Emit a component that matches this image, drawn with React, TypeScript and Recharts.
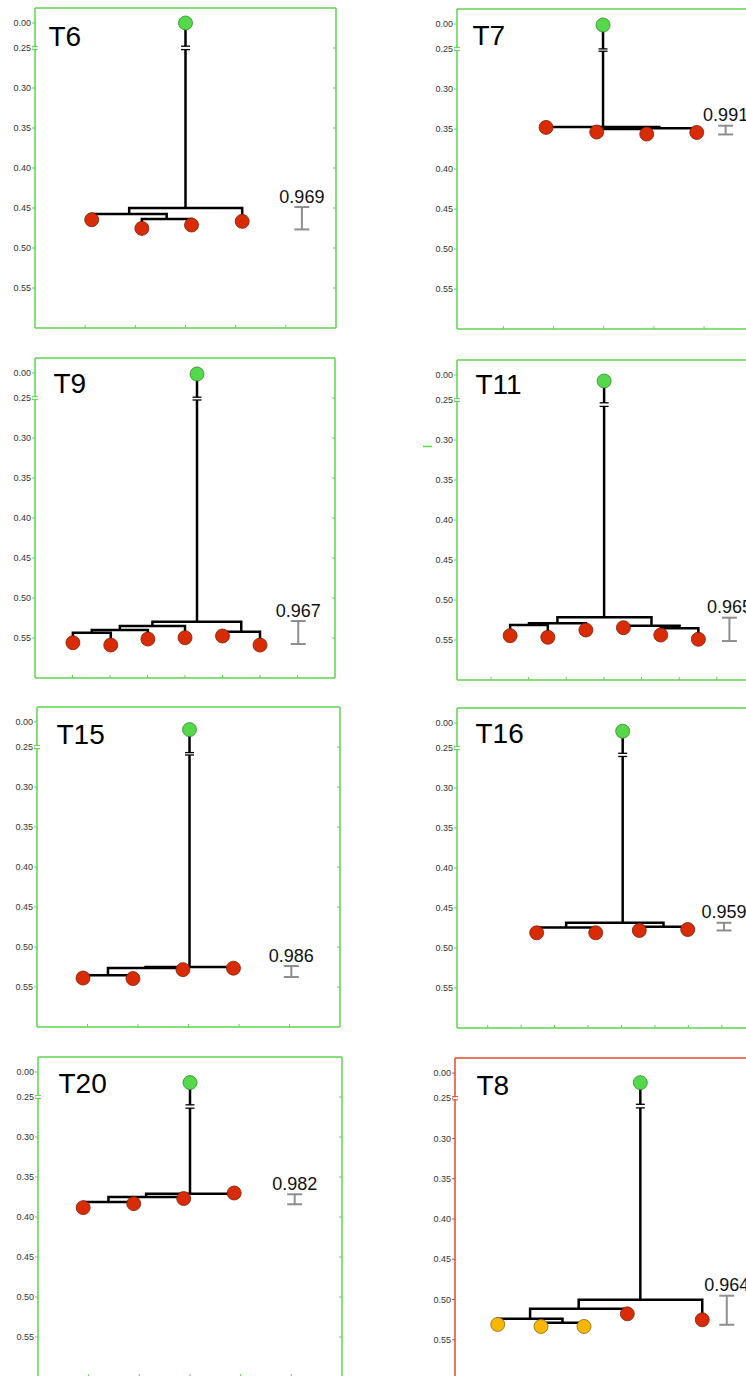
import React from 'react';
import { ComposedChart, XAxis, YAxis, Line, Scatter } from 'recharts';

const FONT = '"Liberation Sans", Arial, Helvetica, sans-serif';

// ---------- axis tick values (real distance values) ----------
const Y_TICKS_LEFT = [0, 0.25, 0.3, 0.35, 0.4, 0.45, 0.5, 0.55];
const Y_TICKS_RIGHT = [0.25, 0.3, 0.35, 0.4, 0.45, 0.5, 0.55];

// ---------- T6 ----------
const T6_LEAF_X = [1.13, 2.13, 3.12, 4.13];
const T6_LEAF_Y = [0.4646, 0.4755, 0.4713, 0.4667];
const T6_LEAF_C = ['r', 'r', 'r', 'r'];
const T6_LINKS = [[1, 2, 0.4639], [0, 4, 0.4575], [5, 3, 0.45]];
const T6_ROOT = [3.0, 0.0];
const T6_BREAK = [0.232, 0.252];
const T6_SPREAD = [5.32, 0.4488, 0.4768];
const T6_SCORE = '0.969';

// ---------- T7 ----------
const T7_LEAF_X = [1.85, 2.86, 3.857, 4.854];
const T7_LEAF_Y = [0.348, 0.3538, 0.3563, 0.3543];
const T7_LEAF_C = ['r', 'r', 'r', 'r'];
const T7_LINKS = [[1, 2, 0.35], [4, 3, 0.349], [0, 5, 0.3475]];
const T7_ROOT = [2.986, 0.01];
const T7_BREAK = [0.249, 0.2528];
const T7_SPREAD = [5.43, 0.3459, 0.3568];
const T7_SCORE = '0.991';

// ---------- T9 ----------
const T9_LEAF_X = [1.01, 2.02, 3.01, 4.0, 5.0, 6.0];
const T9_LEAF_Y = [0.5559, 0.5588, 0.5513, 0.5496, 0.5475, 0.5588];
const T9_LEAF_C = ['r', 'r', 'r', 'r', 'r', 'r'];
const T9_LINKS = [[0, 1, 0.5434], [6, 2, 0.54], [7, 3, 0.535], [4, 5, 0.5421], [8, 9, 0.5296]];
const T9_ROOT = [4.32, 0.01];
const T9_BREAK = [0.242, 0.2525];
const T9_SPREAD = [7.02, 0.5288, 0.5575];
const T9_SCORE = '0.967';

// ---------- T11 ----------
const T11_LEAF_X = [1.507, 2.509, 3.52, 4.518, 5.51, 6.51];
const T11_LEAF_Y = [0.5446, 0.5466, 0.5375, 0.5346, 0.5438, 0.5491];
const T11_LEAF_C = ['r', 'r', 'r', 'r', 'r', 'r'];
const T11_LINKS = [[0, 1, 0.5313], [6, 2, 0.5291], [4, 5, 0.5354], [3, 8, 0.5321], [7, 9, 0.5216]];
const T11_ROOT = [4.005, 0.06];
const T11_BREAK = [0.2535, 0.258];
const T11_SPREAD = [7.335, 0.5221, 0.5513];
const T11_SCORE = '0.965';

// ---------- T15 ----------
const T15_LEAF_X = [0.911, 1.9, 2.89, 3.89];
const T15_LEAF_Y = [0.5388, 0.5395, 0.5283, 0.5265];
const T15_LEAF_C = ['r', 'r', 'r', 'r'];
const T15_LINKS = [[0, 1, 0.5354], [4, 2, 0.5263], [5, 3, 0.525]];
const T15_ROOT = [3.02, 0.076];
const T15_BREAK = [0.257, 0.26];
const T15_SPREAD = [5.036, 0.5238, 0.5375];
const T15_SCORE = '0.986';

// ---------- T16 ----------
const T16_LEAF_X = [2.464, 4.229, 5.533, 6.98];
const T16_LEAF_Y = [0.481, 0.481, 0.4781, 0.4769];
const T16_LEAF_C = ['r', 'r', 'r', 'r'];
const T16_LINKS = [[0, 1, 0.4745], [2, 3, 0.4735], [4, 5, 0.4685]];
const T16_ROOT = [5.036, 0.082];
const T16_BREAK = [0.2566, 0.2606];
const T16_SPREAD = [8.066, 0.4685, 0.4781];
const T16_SCORE = '0.959';

// ---------- T20 ----------
const T20_LEAF_X = [0.892, 1.889, 2.876, 3.872];
const T20_LEAF_Y = [0.3883, 0.3833, 0.377, 0.37];
const T20_LEAF_C = ['r', 'r', 'r', 'r'];
const T20_LINKS = [[0, 1, 0.3813], [4, 2, 0.375], [5, 3, 0.3708]];
const T20_ROOT = [3.0, 0.106];
const T20_BREAK = [0.2598, 0.264];
const T20_SPREAD = [5.066, 0.3716, 0.3841];
const T20_SCORE = '0.982';

// ---------- T8 ----------
const T8_LEAF_X = [0.993, 2.0, 3.0, 4.007, 5.75];
const T8_LEAF_Y = [0.531, 0.5335, 0.5335, 0.5178, 0.5252];
const T8_LEAF_C = ['y', 'y', 'y', 'r', 'r'];
const T8_LINKS = [[1, 2, 0.529], [0, 5, 0.524], [6, 3, 0.5116], [7, 4, 0.5004]];
const T8_ROOT = [4.31, 0.095];
const T8_BREAK = [0.2575, 0.262];
const T8_SPREAD = [6.32, 0.4953, 0.5314];
const T8_SCORE = '0.964';

const PANEL_DATA = [
  { title: 'T6', leafX: T6_LEAF_X, leafY: T6_LEAF_Y, leafC: T6_LEAF_C, links: T6_LINKS, root: T6_ROOT, brk: T6_BREAK, spread: T6_SPREAD, score: T6_SCORE },
  { title: 'T7', leafX: T7_LEAF_X, leafY: T7_LEAF_Y, leafC: T7_LEAF_C, links: T7_LINKS, root: T7_ROOT, brk: T7_BREAK, spread: T7_SPREAD, score: T7_SCORE },
  { title: 'T9', leafX: T9_LEAF_X, leafY: T9_LEAF_Y, leafC: T9_LEAF_C, links: T9_LINKS, root: T9_ROOT, brk: T9_BREAK, spread: T9_SPREAD, score: T9_SCORE },
  { title: 'T11', leafX: T11_LEAF_X, leafY: T11_LEAF_Y, leafC: T11_LEAF_C, links: T11_LINKS, root: T11_ROOT, brk: T11_BREAK, spread: T11_SPREAD, score: T11_SCORE },
  { title: 'T15', leafX: T15_LEAF_X, leafY: T15_LEAF_Y, leafC: T15_LEAF_C, links: T15_LINKS, root: T15_ROOT, brk: T15_BREAK, spread: T15_SPREAD, score: T15_SCORE },
  { title: 'T16', leafX: T16_LEAF_X, leafY: T16_LEAF_Y, leafC: T16_LEAF_C, links: T16_LINKS, root: T16_ROOT, brk: T16_BREAK, spread: T16_SPREAD, score: T16_SCORE },
  { title: 'T20', leafX: T20_LEAF_X, leafY: T20_LEAF_Y, leafC: T20_LEAF_C, links: T20_LINKS, root: T20_ROOT, brk: T20_BREAK, spread: T20_SPREAD, score: T20_SCORE },
  { title: 'T8', leafX: T8_LEAF_X, leafY: T8_LEAF_Y, leafC: T8_LEAF_C, links: T8_LINKS, root: T8_ROOT, brk: T8_BREAK, spread: T8_SPREAD, score: T8_SCORE },
];

// ---------- layout & style ----------
const GREEN_FRAME = '#5cd64c';
const RED_FRAME = '#e04a24';
const LAYOUT = [
  { x0: 35, y0: 8, w: 301, h: 320, xmin: 0, span: 6, frame: GREEN_FRAME, tx: 14, ty: 38 },
  { x0: 457, y0: 9, w: 301, h: 320, xmin: 0.075, span: 6, frame: GREEN_FRAME, tx: 16, ty: 36 },
  { x0: 35, y0: 358, w: 300, h: 320, xmin: 0, span: 8, frame: GREEN_FRAME, tx: 19, ty: 35 },
  { x0: 457, y0: 360, w: 301, h: 320, xmin: 0.095, span: 8, frame: GREEN_FRAME, tx: 19, ty: 34 },
  { x0: 37, y0: 707, w: 303, h: 320, xmin: 0, span: 6, frame: GREEN_FRAME, tx: 20, ty: 37 },
  { x0: 457, y0: 708, w: 301, h: 320, xmin: 0.082, span: 9, frame: GREEN_FRAME, tx: 19, ty: 35 },
  { x0: 38, y0: 1057, w: 304, h: 320, xmin: 0, span: 6, frame: GREEN_FRAME, tx: 21, ty: 36 },
  { x0: 455, y0: 1058, w: 301, h: 322, xmin: 0, span: 7, frame: RED_FRAME, tx: 22, ty: 37 },
];

const LEAF_FILL: Record<string, string> = { r: '#d92c06', y: '#f7b703' };
const LEAF_STROKE: Record<string, string> = { r: '#7c1f08', y: '#8c6a12' };
const ROOT_FILL = '#55d84a';
const ROOT_STROKE = '#2f8a2a';
const TREE_COLOR = '#000';
const SPREAD_COLOR = '#8e8e8e';

// broken axis: [0, 0.25] is squeezed into a short band above 0.25
const BREAK_AT = 0.25;
const SQUEEZE = 0.125;
const brk = (v: number) => (v >= BREAK_AT ? v : BREAK_AT - (BREAK_AT - v) * SQUEEZE);
const unbrk = (d: number) => (d >= BREAK_AT - 1e-9 ? d : BREAK_AT - (BREAK_AT - d) / SQUEEZE);

const ML = 40, MT = 10, MR = 10, MB = 10;
const TICK_SIZE = 3, TICK_MARGIN = 1;

const LeafDot = (p: any) => (
  <circle cx={p.cx} cy={p.cy} r={7} fill={LEAF_FILL[p.payload.c]} stroke={LEAF_STROKE[p.payload.c]} strokeWidth={0.8} />
);
const RootDot = (p: any) => (
  <circle cx={p.cx} cy={p.cy} r={7} fill={ROOT_FILL} stroke={ROOT_STROKE} strokeWidth={0.8} />
);
const BreakMark = (p: any) => (
  <line x1={p.cx - 4.5} x2={p.cx + 4.5} y1={p.cy} y2={p.cy} stroke={TREE_COLOR} strokeWidth={1.3} />
);
const Cap = (p: any) => (
  <line x1={p.cx - 7.5} x2={p.cx + 7.5} y1={p.cy} y2={p.cy} stroke={SPREAD_COLOR} strokeWidth={2} />
);
const ScoreLabel = (p: any) => (
  <text x={p.cx} y={p.cy - 4.5} textAnchor="middle" fontSize={18} fontFamily={FONT} fill="#111">
    {p.payload.label}
  </text>
);
const EmptyTick = () => <g />;

function makeLeftTick(color: string) {
  return (props: any) => {
    const { x, y, payload } = props;
    const real = unbrk(payload.value);
    const ax = x + TICK_SIZE + TICK_MARGIN;
    const isBreak = Math.abs(real - BREAK_AT) < 1e-6;
    return (
      <g>
        <text x={x} y={y} dy={3.2} textAnchor="end" fontSize={9} fontFamily={FONT} fill="#333">
          {real.toFixed(2)}
        </text>
        {isBreak && (
          <g>
            <rect x={ax - 2} y={y - 1} width={4} height={2} fill="#fff" />
            <line x1={ax - 3} x2={ax + 3} y1={y - 1.6} y2={y - 1.6} stroke={color} strokeWidth={1} />
            <line x1={ax - 3} x2={ax + 3} y1={y + 1.6} y2={y + 1.6} stroke={color} strokeWidth={1} />
          </g>
        )}
      </g>
    );
  };
}

function Panel({ L, D }: { L: any; D: any }) {
  const xTicks: number[] = [];
  for (let k = Math.ceil(L.xmin + 1e-6); k < L.xmin + L.span - 1e-6; k++) xTicks.push(k);

  const xs: number[] = [...D.leafX];
  const hs: number[] = [...D.leafY];
  const paths = D.links.map(([a, b, h]: number[]) => {
    const xa = xs[a], xb = xs[b];
    const path = [
      { x: xa, y: brk(hs[a]) },
      { x: xa, y: brk(h) },
      { x: xb, y: brk(h) },
      { x: xb, y: brk(hs[b]) },
    ];
    xs.push((xa + xb) / 2);
    hs.push(h);
    return path;
  });
  const rootH = hs[hs.length - 1];
  const [sx, sy] = D.root;
  const [ex, lo, hi] = D.spread;

  const leaves = D.leafX.map((x: number, i: number) => ({ x, y: brk(D.leafY[i]), c: D.leafC[i] }));
  const axisLine = { stroke: L.frame, strokeWidth: 1.5 };
  const tickLine = { stroke: L.frame, strokeWidth: 1 };
  const common = { isAnimationActive: false, xAxisId: 'b', yAxisId: 'l' } as any;
  const lineProps = { ...common, dataKey: 'y', type: 'linear', dot: false, activeDot: false, stroke: TREE_COLOR, strokeWidth: 2.5 } as any;

  return (
    <div style={{ position: 'absolute', left: L.x0 - ML, top: L.y0 - MT }}>
      <ComposedChart width={ML + L.w + MR} height={MT + L.h + MB} margin={{ top: MT, right: MR, bottom: MB, left: 0 }}>
        <XAxis xAxisId="b" type="number" dataKey="x" orientation="bottom" mirror domain={[L.xmin, L.xmin + L.span]}
          ticks={xTicks} interval={0} tick={EmptyTick} tickSize={TICK_SIZE} axisLine={axisLine} tickLine={tickLine} allowDataOverflow />
        <XAxis xAxisId="t" type="number" orientation="top" mirror domain={[L.xmin, L.xmin + L.span]}
          ticks={xTicks} interval={0} tick={EmptyTick} tickSize={TICK_SIZE} axisLine={axisLine} tickLine={tickLine} allowDataOverflow />
        <YAxis yAxisId="l" type="number" dataKey="y" orientation="left" domain={[0.2, 0.6]} reversed
          ticks={Y_TICKS_LEFT.map(brk)} interval={0} width={ML} tickSize={TICK_SIZE} tickMargin={TICK_MARGIN}
          tick={makeLeftTick(L.frame)} axisLine={axisLine} tickLine={tickLine} allowDataOverflow />
        <YAxis yAxisId="r" type="number" orientation="right" mirror domain={[0.2, 0.6]} reversed
          ticks={Y_TICKS_RIGHT.map(brk)} interval={0} tick={EmptyTick} tickSize={TICK_SIZE} axisLine={axisLine} tickLine={tickLine} allowDataOverflow />

        {paths.map((p: any, i: number) => (
          <Line key={'link' + i} name={'link' + i} data={p} {...lineProps} />
        ))}
        <Line key="stemA" name="stemA" data={[{ x: sx, y: brk(sy) }, { x: sx, y: brk(D.brk[0]) }]} {...lineProps} />
        <Line key="stemB" name="stemB" data={[{ x: sx, y: brk(D.brk[1]) }, { x: sx, y: brk(rootH) }]} {...lineProps} />
        <Line key="spread" name="spread" data={[{ x: ex, y: brk(lo) }, { x: ex, y: brk(hi) }]} {...lineProps} stroke={SPREAD_COLOR} strokeWidth={2} />
        <Scatter key="breaks" name="breaks" data={[{ x: sx, y: brk(D.brk[0]) }, { x: sx, y: brk(D.brk[1]) }]} shape={BreakMark} {...common} />
        <Scatter key="caps" name="caps" data={[{ x: ex, y: brk(lo) }, { x: ex, y: brk(hi) }]} shape={Cap} {...common} />
        <Scatter key="score" name="score" data={[{ x: ex, y: brk(lo), label: D.score }]} shape={ScoreLabel} {...common} />
        <Scatter key="leaves" name="leaves" data={leaves} shape={LeafDot} {...common} />
        <Scatter key="root" name="root" data={[{ x: sx, y: brk(sy) }]} shape={RootDot} {...common} />
      </ComposedChart>
    </div>
  );
}

export default function App() {
  return (
    <div style={{ position: 'absolute', left: 0, top: 0, width: 746, height: 1376, overflow: 'hidden', background: '#fff' }}>
      {LAYOUT.map((L, i) => (
        <Panel key={i} L={L} D={PANEL_DATA[i]} />
      ))}
      <svg width={746} height={1376} style={{ position: 'absolute', left: 0, top: 0, pointerEvents: 'none' }}>
        {LAYOUT.map((L, i) => (
          <text key={i} x={L.x0 + L.tx - 0.5} y={L.y0 + L.ty} fontSize={28} fontFamily={FONT} fill="#000">
            {PANEL_DATA[i].title}
          </text>
        ))}
        <line x1={423} x2={432} y1={446.5} y2={446.5} stroke={GREEN_FRAME} strokeWidth={1.5} />
      </svg>
    </div>
  );
}
